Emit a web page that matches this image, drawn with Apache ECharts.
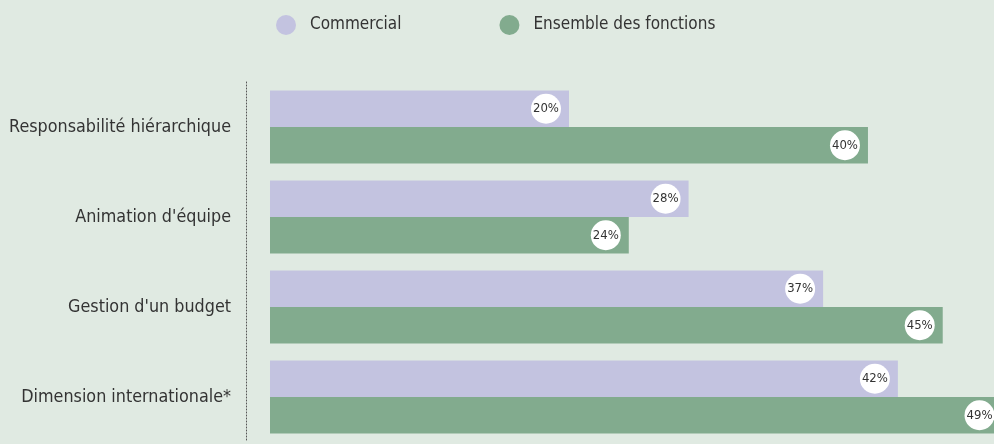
<!DOCTYPE html>
<html>
<head>
<meta charset="utf-8">
<script src="https://cdn.jsdelivr.net/npm/echarts@6/dist/echarts.min.js"></script>
<style>
  html, body { margin: 0; padding: 0; background: #e0eae2; }
  #chart { width: 994px; height: 444px; }
</style>
</head>
<body>
<div id="chart"></div>
<script>
// données
const categories = [
    "Responsabilité hiérarchique",
    "Animation d'équipe",
    "Gestion d'un budget",
    "Dimension internationale*"
];
const seriesNames = ["Commercial", "Ensemble des fonctions"];
const commercial = [20, 28, 37, 42];
const ensemble = [40, 24, 45, 49];

const FONT = "'DejaVu Sans Condensed', 'DejaVu Sans', sans-serif";

function pctLabel() {
    return {
        show: true,
        position: "insideRight",
        distance: 23,
        formatter: "{c}%",
        color: "#333",
        fontFamily: FONT,
        fontSize: 13,
        backgroundColor: "#fff",
        width: 30, height: 30, lineHeight: 30,
        align: "center",
        borderRadius: 15,
    };
}

var chart = echarts.init(document.getElementById("chart"));
chart.setOption({
    backgroundColor: "#e0eae2",
    animation: false,
    legend: {
        left: 271, top: 10,
        icon: "circle", itemWidth: 20, itemHeight: 20, itemGap: 98,
        textStyle: { color: "#333", fontFamily: FONT, fontSize: 17, padding: [0, 0, 0, 9] },
        data: seriesNames,
    },
    // 14.95 px par point : max ajusté pour que la grille s'arrête au bord droit
    grid: { left: 270, right: 0, top: 82, bottom: 2, containLabel: false },
    xAxis: { type: "value", min: 0, max: 48.43, show: false },
    yAxis: {
        type: "category", inverse: true, data: categories, offset: 24,
        axisLine: { show: true, onZero: false, lineStyle: { color: "#555", type: [1, 2], width: 1 } },
        axisTick: { show: false },
        axisLabel: { color: "#333", fontFamily: FONT, fontSize: 17.8, margin: 15 },
    },
    series: [
        { name: seriesNames[0], type: "bar", data: commercial, barWidth: 36.5, barGap: 0,
          itemStyle: { color: "#c3c3e0" }, label: pctLabel(), clip: false },
        { name: seriesNames[1], type: "bar", data: ensemble, barWidth: 36.5, barGap: 0,
          itemStyle: { color: "#82ab8e" }, label: pctLabel(), clip: false },
    ],
});
</script>
</body>
</html>
